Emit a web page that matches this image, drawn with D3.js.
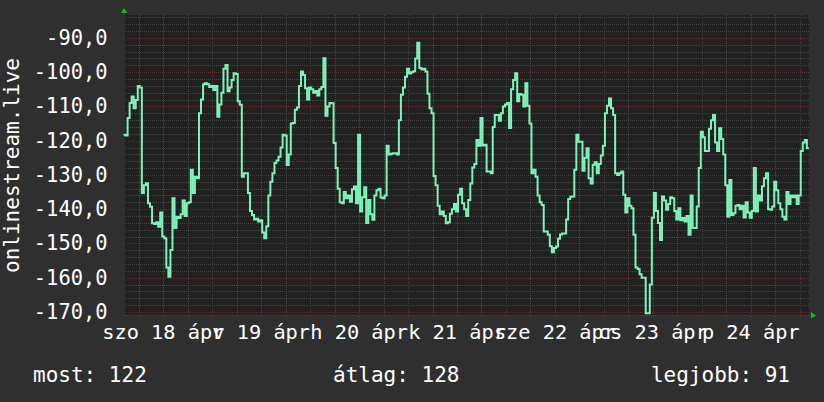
<!DOCTYPE html>
<html><head><meta charset="utf-8">
<script src="https://cdn.jsdelivr.net/npm/d3@7/dist/d3.min.js"></script>
<style>html,body{margin:0;padding:0;background:#2f2f2f;} svg{display:block;}</style>
</head><body>
<svg id="c" width="824" height="402"></svg>
<script>
// ---- data ----
const seriesName = "onlinestream.live";
const startTime = "2015-04-18T02:15:00Z";
const endTime = "2015-04-25T02:15:00Z";
const stepMinutes = 30;
const values = [
-118.3,-118.5,-113.4,-109,-107.1,-110.5,-108.1,-104,-104.5,-135.3,
-133,-132.4,-138.3,-139.3,-144.1,-144.3,-143.8,-145.1,-141,-148,
-148.5,-157,-159.7,-151.9,-136.8,-145.5,-142.2,-142.6,-141.5,-137.5,
-142,-138.3,-138,-128.5,-135.3,-130.5,-131,-112,-108,-103.5,
-103.2,-103.5,-104.3,-104,-105.2,-104,-113,-109.4,-106,-99,
-97.9,-105.6,-104.5,-102.3,-100.3,-100.5,-108.5,-109.5,-130.5,-129.5,
-129.5,-135.3,-140.5,-141.7,-143,-142.8,-143.6,-143.2,-146.8,-148.5,
-145,-136,-132,-129.5,-126.5,-125.8,-124.7,-122,-118.3,-118.5,
-127.1,-124,-115,-114.8,-111,-110.3,-104,-99.8,-100.8,-104.7,
-108,-104.5,-105,-106,-105.5,-106.8,-105,-104.3,-95.9,-112.7,
-110,-109,-109.1,-120.7,-128,-134,-138,-138.3,-135,-136.8,
-136,-137.8,-134.2,-133.4,-138.3,-118.3,-140.7,-136.5,-133.6,-144,
-137.3,-141.5,-143.1,-136,-134.5,-134,-136.6,-136.8,-136,-121.5,
-124,-123.8,-123.7,-123.7,-124,-114,-106.6,-104.5,-101.3,-99,
-100.4,-100,-99.7,-96,-91.4,-98.8,-99.2,-99,-99.8,-106.3,
-110.5,-112,-130.3,-133,-139,-141.5,-140.7,-142,-144.1,-143.8,
-141.3,-140,-138.5,-140.7,-135.8,-134,-138.3,-140,-142,-137.3,
-132.5,-127.8,-126.8,-119.8,-121.5,-113.4,-121.4,-121.2,-129,-129,
-129.5,-116,-112.5,-112.5,-114.2,-112,-110,-109.4,-109,-116.3,
-105,-102.3,-100.3,-108.5,-106.4,-106.6,-110,-103.2,-109.8,-115,
-129.5,-128.5,-130.5,-136,-138,-138.8,-146.5,-146.5,-147.5,-150.8,
-152.6,-151.3,-150.9,-148.6,-147.4,-147.1,-147.1,-143,-137,-136.4,
-136.3,-128.5,-118.3,-120.3,-120.3,-128.8,-125,-122.2,-131,-132.5,
-127,-126.3,-129.5,-126.8,-124.3,-121.5,-112,-109.8,-107.7,-110.5,
-112.5,-129.5,-130,-129.5,-129,-135.8,-141,-136.8,-139,-139.7,
-147.5,-157,-157.5,-159,-160,-160,-170.4,-170.4,-162,-142.5,
-135.3,-140.5,-144,-149,-136.3,-137.5,-140.2,-138.5,-136.5,-136.8,
-140.5,-143,-139.7,-143.2,-142.6,-143.6,-142,-147.5,-136,-145.5,
-145.5,-139.2,-128,-117.4,-119,-123,-123,-116.5,-114,-112.5,
-120.5,-123,-116.4,-119.5,-124,-133,-142.2,-131.5,-141.7,-141.2,
-139,-138.8,-140,-139,-142.4,-138,-141,-142.5,-140.5,-128,
-140.7,-136,-137.5,-133.3,-131,-129.5,-140,-140.2,-139.2,-132,
-134.5,-138.3,-140,-142.2,-143,-135,-138.5,-136,-136.5,-136,
-138.5,-136,-123,-120.5,-119.8,-122.2,-122.2
];
const yDomain = [-170.9, -83.3];
const yTickValues = [-170, -160, -150, -140, -130, -120, -110, -100, -90];
const yMinorStep = 2;
const dayLabels = ["szo 18 ápr", "v 19 ápr", "h 20 ápr", "k 21 ápr", "sze 22 ápr", "cs 23 ápr", "p 24 ápr"];
const dayLabelTimes = ["2015-04-18T12:00:00Z","2015-04-19T12:00:00Z","2015-04-20T12:00:00Z","2015-04-21T12:00:00Z","2015-04-22T12:00:00Z","2015-04-23T12:00:00Z","2015-04-24T12:00:00Z"];
const statNames = ["most", "átlag", "legjobb"];
const statValues = [122, 128, 91];

// ---- drawing ----
const svg = d3.select("#c");
const W = 824, H = 402;
const plot = {left: 123.5, right: 808.9, top: 15, bottom: 315};
const FONT = "'DejaVu Sans Mono', monospace";

const t0 = new Date(startTime);
const data = values.map((v, i) => ({t: new Date(t0.getTime() + i * stepMinutes * 60000), v}));

const x = d3.scaleUtc().domain([t0, new Date(endTime)]).range([plot.left, plot.right]);
const y = d3.scaleLinear().domain(yDomain).range([plot.bottom, plot.top]);

svg.append("rect").attr("width", W).attr("height", H).attr("fill", "#2f2f2f");
svg.append("rect").attr("x", plot.left).attr("y", plot.top)
  .attr("width", plot.right - plot.left).attr("height", plot.bottom - plot.top)
  .attr("fill", "#212121");

const grid = svg.append("g").attr("shape-rendering", "crispEdges");
const minorColor = "#474747", majorColor = "#5f2d2d", dash = "1,1";
// minor horizontal
const minorY = d3.range(Math.ceil(yDomain[0] / yMinorStep) * yMinorStep, yDomain[1], yMinorStep)
  .filter(v => !yTickValues.includes(v));
grid.selectAll(".hy").data(minorY).join("line")
  .attr("x1", plot.left).attr("x2", plot.right)
  .attr("y1", d => Math.round(y(d)) + 0.5).attr("y2", d => Math.round(y(d)) + 0.5)
  .attr("stroke", minorColor).attr("stroke-dasharray", dash);
// minor vertical (6 h)
const minorX = x.ticks(d3.utcHour.every(6)).filter(d => d.getUTCHours() !== 0);
grid.selectAll(".vx").data(minorX).join("line")
  .attr("y1", plot.top).attr("y2", plot.bottom)
  .attr("x1", d => Math.round(x(d)) + 0.5).attr("x2", d => Math.round(x(d)) + 0.5)
  .attr("stroke", minorColor).attr("stroke-dasharray", dash);
// major horizontal
grid.selectAll(".hY").data(yTickValues).join("line")
  .attr("x1", plot.left).attr("x2", plot.right)
  .attr("y1", d => Math.round(y(d)) + 0.5).attr("y2", d => Math.round(y(d)) + 0.5)
  .attr("stroke", majorColor).attr("stroke-dasharray", dash);
// major vertical (days)
const majorX = x.ticks(d3.utcDay.every(1));
grid.selectAll(".vX").data(majorX).join("line")
  .attr("y1", plot.top).attr("y2", plot.bottom)
  .attr("x1", d => Math.round(x(d)) + 0.5).attr("x2", d => Math.round(x(d)) + 0.5)
  .attr("stroke", majorColor).attr("stroke-dasharray", dash);

// axis ticks below the plot
grid.selectAll(".tk").data(minorX.concat(majorX)).join("line")
  .attr("y1", plot.bottom).attr("y2", plot.bottom + 2)
  .attr("x1", d => Math.round(x(d)) + 0.5).attr("x2", d => Math.round(x(d)) + 0.5)
  .attr("stroke", d => d.getUTCHours() === 0 ? majorColor : minorColor);

// axes lines
svg.append("line").attr("x1", plot.left - 1).attr("x2", plot.right + 2)
  .attr("y1", plot.bottom + 0.5).attr("y2", plot.bottom + 0.5)
  .attr("stroke", "#3a3a3a");
svg.append("line").attr("x1", plot.left + 0.5).attr("x2", plot.left + 0.5)
  .attr("y1", plot.top - 4).attr("y2", plot.bottom + 2)
  .attr("stroke", "#3a3a3a");

// series line
const line = d3.line().x(d => x(d.t)).y(d => y(d.v)).curve(d3.curveStepAfter);
svg.append("path").datum(data).attr("d", line)
  .attr("fill", "none").attr("stroke", "#7ff2ba").attr("stroke-width", 2)
  .attr("stroke-linejoin", "miter");

// arrows
svg.append("path").attr("fill", "#00d000")
  .attr("d", `M${plot.left - 2.5},${plot.top - 2} L${plot.left + 3.5},${plot.top - 2} L${plot.left + 0.5},${plot.top - 7} Z`);
svg.append("path").attr("fill", "#00d000")
  .attr("d", `M${plot.right + 2},${plot.bottom - 3} L${plot.right + 2},${plot.bottom + 3.5} L${plot.right + 7},${plot.bottom + 0.5} Z`);

// y tick labels
const fmt = d => d3.format(".1f")(d).replace(".", ",").replace("−", "-");
svg.selectAll(".yl").data(yTickValues).join("text")
  .attr("x", 107.5).attr("y", d => y(d) + 7)
  .attr("text-anchor", "end").attr("fill", "#ffffff")
  .style("font-family", FONT).style("font-size", "20.4px")
  .text(fmt);

// x labels (centered at noon)
svg.selectAll(".xl").data(dayLabels).join("text")
  .attr("x", (d, i) => x(new Date(dayLabelTimes[i])))
  .attr("y", 338.5)
  .attr("text-anchor", "middle").attr("fill", "#ffffff")
  .style("font-family", FONT).style("font-size", "20.3px")
  .text(d => d);

// y title
svg.append("text")
  .attr("transform", `translate(19,165.5) rotate(-90)`)
  .attr("text-anchor", "middle").attr("fill", "#ffffff")
  .style("font-family", FONT).style("font-size", "21px")
  .text(seriesName);

// legend / stats
const statX = [33, 333, 790];
const statAnchor = ["start", "start", "end"];
svg.selectAll(".st").data(statNames).join("text")
  .attr("x", (d, i) => statX[i]).attr("y", 382)
  .attr("text-anchor", (d, i) => statAnchor[i]).attr("fill", "#ffffff")
  .style("font-family", FONT).style("font-size", "21px")
  .text((d, i) => `${d}: ${statValues[i]}`);
</script>
</body></html>
